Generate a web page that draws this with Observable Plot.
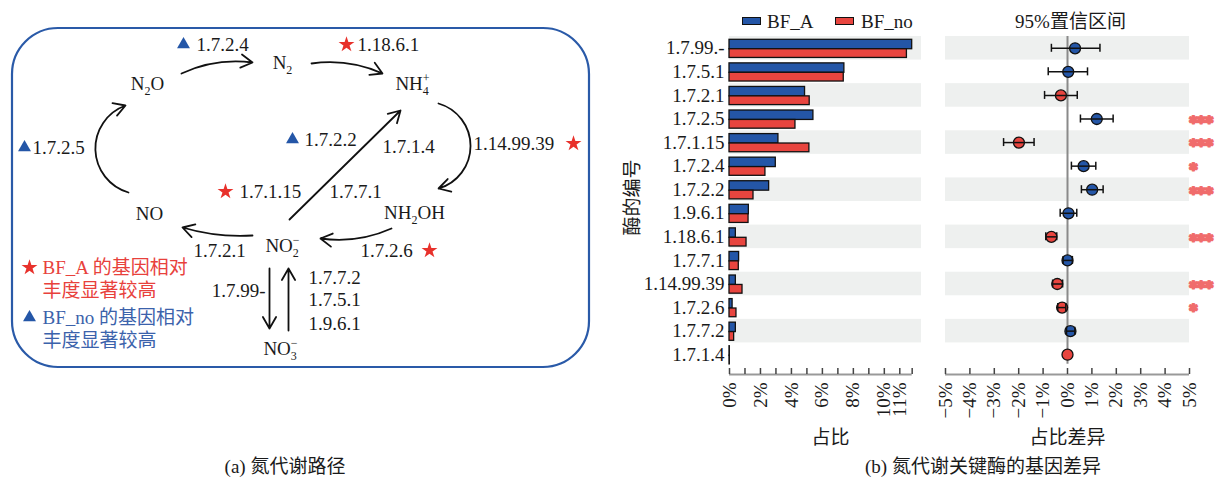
<!DOCTYPE html>
<html><head><meta charset="utf-8">
<script src="https://cdn.jsdelivr.net/npm/d3@7"></script>
<script src="https://cdn.jsdelivr.net/npm/@observablehq/plot@0.6"></script>
<style>
body{margin:0;background:#fff;}
#root{position:relative;width:1216px;height:479px;overflow:hidden;font-family:'Liberation Serif','Noto Sans CJK SC',serif;color:#1a1a1a;}
#root svg{position:absolute;top:0;}
.cap{position:absolute;top:457px;font-size:19px;line-height:19px;white-space:nowrap;transform:translateX(-50%);}
.lg{position:absolute;font-size:19px;line-height:19px;white-space:nowrap;}
.sw{position:absolute;width:19px;height:8px;box-sizing:border-box;border:1.3px solid #111;}
</style></head><body><div id="root"></div>
<script>
// ---------- data: (b) key enzymes ----------
const enzymes = ["1.7.99.-","1.7.5.1","1.7.2.1","1.7.2.5","1.7.1.15","1.7.2.4","1.7.2.2","1.9.6.1","1.18.6.1","1.7.7.1","1.14.99.39","1.7.2.6","1.7.7.2","1.7.1.4"];
const shareA  = [11.8, 7.42, 4.88, 5.42, 3.16, 2.99, 2.56, 1.25, 0.41, 0.62, 0.41, 0.20, 0.41, 0.02];
const shareNo = [11.46, 7.38, 5.18, 4.26, 5.16, 2.32, 1.55, 1.23, 1.10, 0.60, 0.84, 0.45, 0.30, 0.02];
const diffMean = [0.31, 0.03, -0.27, 1.20, -1.99, 0.66, 1.01, 0.04, -0.66, 0.00, -0.42, -0.22, 0.12, 0.00];
const diffLow  = [-0.66, -0.79, -0.94, 0.53, -2.62, 0.16, 0.57, -0.30, -0.89, -0.18, -0.61, -0.40, -0.04, 0.00];
const diffHigh = [1.33, 0.82, 0.40, 1.87, -1.37, 1.16, 1.46, 0.38, -0.44, 0.20, -0.20, -0.07, 0.30, 0.00];
const higherIn = ["BF_A","BF_A","BF_no","BF_A","BF_no","BF_A","BF_A","BF_A","BF_no","BF_A","BF_no","BF_no","BF_A","BF_no"];
const signif   = ["","","","***","***","*","***","","***","","***","*","",""];
const shareTickValues = [0,1,2,3,4,5,6,7,8,9,10,11];
const shareTickLabels = [0,2,4,6,8,10,11];
const diffTickValues  = [-5,-4,-3,-2,-1,0,1,2,3,4,5];
const groups = ["BF_A","BF_no"];

// ---------- data: (a) nitrogen pathway diagram (diagram units) ----------
const frameBox = [{x1: 12, y1: 28, x2: 589, y2: 367}];
const species = [
  {label: "N_2O", x: 147, y: 83}, {label: "N_2", x: 282, y: 62}, {label: "NH_4^+", x: 412, y: 83},
  {label: "NH_2OH", x: 414, y: 212}, {label: "NO_2^−", x: 282, y: 245}, {label: "NO", x: 149, y: 213},
  {label: "NO_3^−", x: 280, y: 348}
];
const reactions = [
  {x1: 181, y1: 73, x2: 252, y2: 62, bend: 16},
  {x1: 311, y1: 63, x2: 382, y2: 73, bend: 16},
  {x1: 438, y1: 103, x2: 438, y2: 188, bend: 74},
  {x1: 391, y1: 228, x2: 320, y2: 238, bend: 16},
  {x1: 252, y1: 235, x2: 182, y2: 227, bend: 10},
  {x1: 128, y1: 192, x2: 125, y2: 105, bend: 72},
  {x1: 289, y1: 219, x2: 400, y2: 110, bend: 0},
  {x1: 269, y1: 268, x2: 269, y2: 328, bend: 0},
  {x1: 288, y1: 330, x2: 288, y2: 268, bend: 0}
];
const enzymeTags = [
  {text: "1.7.2.4", x: 196, y: 44, anchor: "start"}, {text: "1.18.6.1", x: 357, y: 44, anchor: "start"},
  {text: "1.14.99.39", x: 473, y: 143, anchor: "start"}, {text: "1.7.2.2", x: 304, y: 139, anchor: "start"},
  {text: "1.7.1.4", x: 382, y: 146, anchor: "start"}, {text: "1.7.1.15", x: 239, y: 191, anchor: "start"},
  {text: "1.7.7.1", x: 329, y: 191, anchor: "start"}, {text: "1.7.2.6", x: 360, y: 250, anchor: "start"},
  {text: "1.7.2.1", x: 193, y: 250, anchor: "start"}, {text: "1.7.2.5", x: 32, y: 147, anchor: "start"},
  {text: "1.7.99-", x: 265, y: 290, anchor: "end"}, {text: "1.7.7.2", x: 308, y: 277, anchor: "start"},
  {text: "1.7.5.1", x: 308, y: 299, anchor: "start"}, {text: "1.9.6.1", x: 308, y: 323, anchor: "start"}
];
const markers = [
  {group: "BF_no", x: 183, y: 44}, {group: "BF_A", x: 346, y: 44}, {group: "BF_A", x: 573, y: 143},
  {group: "BF_no", x: 292, y: 139}, {group: "BF_A", x: 225, y: 191}, {group: "BF_A", x: 429, y: 250},
  {group: "BF_no", x: 24, y: 147}, {group: "BF_A", x: 29, y: 267}, {group: "BF_no", x: 29, y: 317}
];
const keyLines = [
  {text: "BF_A 的基因相对", group: "BF_A", x: 42, y: 267}, {text: "丰度显著较高", group: "BF_A", x: 42, y: 290},
  {text: "BF_no 的基因相对", group: "BF_no", x: 42, y: 317}, {text: "丰度显著较高", group: "BF_no", x: 42, y: 340}
];
const captionA = "(a) 氮代谢路径";
const captionB = "(b) 氮代谢关键酶的基因差异";

// ---------- styles ----------
const barColor = {BF_A: "#2456a7", BF_no: "#e8453f"};
const keyColor = {BF_A: "#e8413c", BF_no: "#3b62ab"};
const FONT = "'Liberation Serif','Noto Sans CJK SC',serif";
const root = document.getElementById("root");

// ---------- (a) diagram ----------
const diag = Plot.plot({
  width: 600, height: 479, margin: 0,
  x: {domain: [0, 600], range: [0, 600], axis: null},
  y: {domain: [0, 479], range: [0, 479], axis: null},
  style: {fontFamily: FONT, fontSize: "19px", color: "#1a1a1a", background: "transparent"},
  marks: [
    Plot.rect(frameBox, {x1: "x1", y1: "y1", x2: "x2", y2: "y2", rx: 46, fill: "none", stroke: "#2a5aa8", strokeWidth: 2.2}),
    ...reactions.map(r => Plot.arrow([r], {x1: "x1", y1: "y1", x2: "x2", y2: "y2", bend: r.bend, headLength: 11, strokeWidth: 1.8, stroke: "#111"})),
    Plot.text(species, {x: "x", y: "y", text: "label", className: "chem"}),
    Plot.text(enzymeTags.filter(d => d.anchor === "start"), {x: "x", y: "y", text: "text", textAnchor: "start"}),
    Plot.text(enzymeTags.filter(d => d.anchor === "end"), {x: "x", y: "y", text: "text", textAnchor: "end"}),
    Plot.dot(markers.filter(d => d.group === "BF_A"), {x: "x", y: "y", symbol: "star", r: 5, fill: "#e8312b", stroke: "none"}),
    Plot.dot(markers.filter(d => d.group === "BF_no"), {x: "x", y: "y", symbol: "triangle", r: 4.8, fill: "#2456a7", stroke: "none"}),
    Plot.text(keyLines, {x: "x", y: "y", text: "text", textAnchor: "start", fill: d => keyColor[d.group]})
  ]
});
root.appendChild(diag);
diag.style.left = "0px";

// chemical formulas: _x subscript, ^x superscript (stacked above a preceding subscript)
diag.querySelectorAll(".chem text").forEach(el => {
  const s = el.textContent; el.textContent = "";
  const NS = "http://www.w3.org/2000/svg";
  let cur = 0, prevSub = false, i = 0;
  const add = (txt, kind) => {
    const t = document.createElementNS(NS, "tspan");
    t.textContent = txt;
    const target = kind === "sub" ? 5 : kind === "sup" ? -8 : 0;
    if (kind !== "n") t.setAttribute("font-size", "12px");
    if (kind === "sup" && prevSub) t.setAttribute("dx", "-6");
    t.setAttribute("dy", String(target - cur));
    cur = target; prevSub = kind === "sub";
    el.appendChild(t);
  };
  let buf = "";
  while (i < s.length) {
    const c = s[i];
    if (c === "_" || c === "^") { if (buf) { add(buf, "n"); buf = ""; } add(s[i + 1], c === "_" ? "sub" : "sup"); i += 2; }
    else { buf += c; i++; }
  }
  if (buf) add(buf, "n");
});

// ---------- (b) shared row geometry ----------
const rows = enzymes.map((e, i) => ({e, i, a: shareA[i], n: shareNo[i], m: diffMean[i], lo: diffLow[i], hi: diffHigh[i], g: higherIn[i], s: signif[i]}));
const rowPx = 23.57, axisGap = 8 / rowPx;
const yDom = [-0.5, enzymes.length - 0.5 + axisGap];
const H = 479, mTop = 36, mBot = 105, frameH = H - mTop - mBot;
const shareMax = d3.max(shareA.concat(shareNo));
const stripe = rows.filter(d => d.i % 2 === 0);

const barPlot = Plot.plot({
  width: 330, height: H, marginLeft: 129, marginRight: 9, marginTop: mTop, marginBottom: mBot,
  x: {domain: [0, shareMax * 1.051]},
  y: {domain: yDom, reverse: true},
  style: {fontFamily: FONT, fontSize: "19px", color: "#1a1a1a", background: "transparent", overflow: "visible"},
  marks: [
    Plot.rect(stripe, {x1: 0, x2: shareMax * 1.051, y1: d => d.i - 0.5, y2: d => d.i + 0.5, fill: "#eef0ef"}),
    Plot.rect(rows, {x1: 0, x2: "a", y1: d => d.i - 0.36, y2: d => d.i + 0.04, fill: barColor.BF_A, stroke: "#111", strokeWidth: 1.3}),
    Plot.rect(rows, {x1: 0, x2: "n", y1: d => d.i + 0.04, y2: d => d.i + 0.41, fill: barColor.BF_no, stroke: "#111", strokeWidth: 1.3}),
    Plot.ruleY([yDom[1]], {x1: 0, x2: shareMax, stroke: "#999", strokeWidth: 2}),
    Plot.ruleX(shareTickValues.concat([shareMax]), {x: d => d, insetTop: frameH - 6, stroke: "#444", strokeWidth: 1.5}),
    Plot.axisY({ticks: rows.map(d => d.i), tickFormat: i => enzymes[i], tickSize: 0, tickPadding: 5, label: null}),
    Plot.axisX({ticks: shareTickLabels, tickFormat: d => d + "%", tickSize: 0, tickPadding: 8, tickRotate: -90, label: null}),
    Plot.text(["酶的编号"], {frameAnchor: "left", textAnchor: "middle", lineAnchor: "middle", rotate: -90, dx: -97, dy: -8}),
    Plot.text(["占比"], {frameAnchor: "bottom", lineAnchor: "middle", dx: 5, dy: 63})
  ]
});
root.appendChild(barPlot);
barPlot.style.left = "600px";

const fmtDiff = d => (d < 0 ? "\u2212" + (-d) : String(d)) + "%";
const ciPlot = Plot.plot({
  width: 286, height: H, marginLeft: 15, marginRight: 27, marginTop: mTop, marginBottom: mBot,
  x: {domain: [d3.min(diffTickValues), d3.max(diffTickValues)]},
  y: {domain: yDom, reverse: true, axis: null},
  style: {fontFamily: FONT, fontSize: "19px", color: "#1a1a1a", background: "transparent", overflow: "visible"},
  marks: [
    Plot.rect(stripe, {x1: d3.min(diffTickValues), x2: d3.max(diffTickValues), y1: d => d.i - 0.5, y2: d => d.i + 0.5, fill: "#eef0ef"}),
    Plot.ruleX([0], {y1: -0.5, y2: enzymes.length - 0.6, stroke: "#8a8a8a", strokeWidth: 2}),
    Plot.dot(rows, {x: "m", y: "i", r: 5.5, fill: d => barColor[d.g], stroke: "#111", strokeWidth: 1.3}),
    Plot.link(rows.filter(d => d.hi > d.lo), {x1: "lo", x2: "hi", y1: "i", y2: "i", stroke: "#111", strokeWidth: 1.5}),
    Plot.ruleX(rows.filter(d => d.hi > d.lo), {x: "lo", y1: d => d.i - 0.17, y2: d => d.i + 0.17, stroke: "#111", strokeWidth: 1.5}),
    Plot.ruleX(rows.filter(d => d.hi > d.lo), {x: "hi", y1: d => d.i - 0.17, y2: d => d.i + 0.17, stroke: "#111", strokeWidth: 1.5}),
    Plot.ruleY([yDom[1]], {x1: d3.min(diffTickValues), x2: d3.max(diffTickValues), stroke: "#999", strokeWidth: 2}),
    Plot.ruleX(diffTickValues, {x: d => d, insetTop: frameH - 6, stroke: "#444", strokeWidth: 1.5}),
    Plot.axisX({ticks: diffTickValues, tickFormat: fmtDiff, tickSize: 0, tickPadding: 8, tickRotate: -90, label: null}),
    Plot.text(rows.filter(d => d.s), {y: "i", text: "s", frameAnchor: "right", textAnchor: "start", lineAnchor: "middle", dx: 0, dy: 4,
      fontFamily: "DejaVu Sans", fontWeight: "bold", fontSize: 15, fill: "#f06c6c", stroke: "#f06c6c", strokeWidth: 2.2, letterSpacing: 1.2}),
    Plot.text(["95%置信区间"], {frameAnchor: "top", lineAnchor: "middle", dx: 3, dy: -15}),
    Plot.text(["占比差异"], {frameAnchor: "bottom", lineAnchor: "middle", dy: 63})
  ]
});
root.appendChild(ciPlot);
ciPlot.style.left = "930px";

// ---------- legend & captions (HTML) ----------
function addDiv(cls, text, left, top, extra) {
  const d = document.createElement("div");
  d.className = cls; d.textContent = text || "";
  d.style.left = left + "px"; d.style.top = top + "px";
  Object.assign(d.style, extra || {});
  root.appendChild(d);
}
addDiv("sw", "", 742, 16.5, {background: barColor.BF_A});
addDiv("lg", groups[0], 767, 11.5);
addDiv("sw", "", 835, 16.5, {background: barColor.BF_no});
addDiv("lg", groups[1], 861, 11.5);
addDiv("cap", captionA, 285, 457);
addDiv("cap", captionB, 983, 457);
</script></body></html>
